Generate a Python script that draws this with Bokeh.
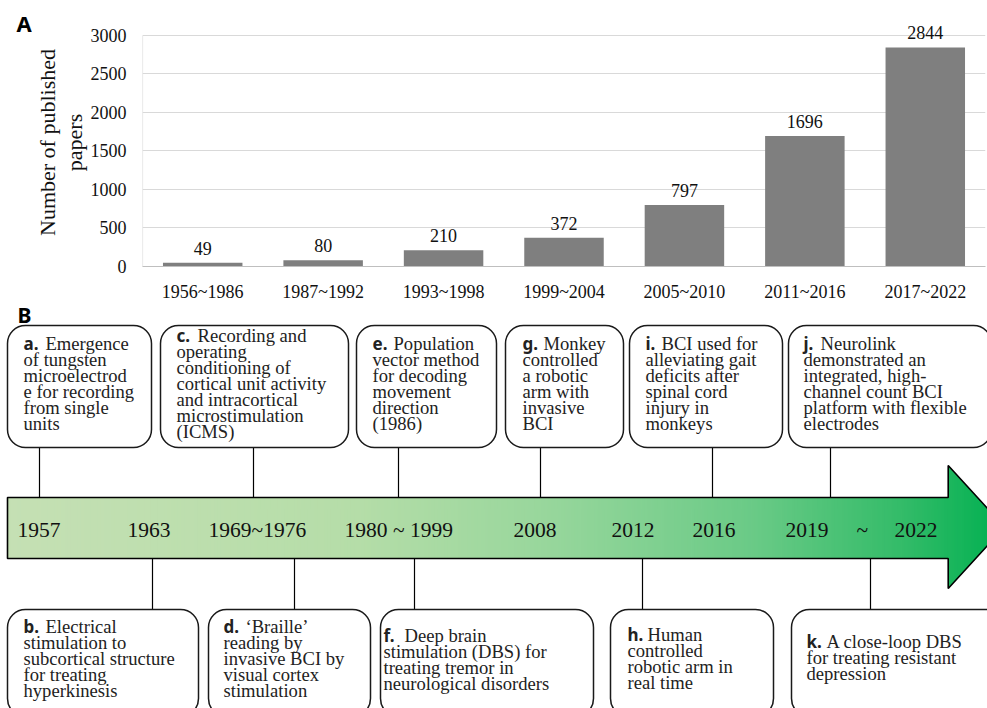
import numpy as np
from bokeh.plotting import figure
from bokeh.layouts import column, row
from bokeh.models import Range1d, FactorRange, LabelSet, FixedTicker, ColumnDataSource
from bokeh.transform import dodge
from bokeh.core.properties import value
from bokeh.embed import file_html
from bokeh.resources import INLINE

# ---------------- data ----------------
periods = ["1956~1986", "1987~1992", "1993~1998", "1999~2004",
           "2005~2010", "2011~2016", "2017~2022"]
papers = [49, 80, 210, 372, 797, 1696, 2844]
y_ticks = [0, 500, 1000, 1500, 2000, 2500, 3000]

timeline_years = ["1957", "1963", "1969~1976", "1980 ~ 1999", "2008",
                  "2012", "2016", "2019", "~", "2022"]

events_top_labels = ["a.", "c.", "e.", "g.", "i.", "j."]
events_top_lines = [
    ["Emergence", "of tungsten", "microelectrod", "e for recording", "from single", "units"],
    ["Recording and", "operating", "conditioning of", "cortical unit activity",
     "and intracortical", "microstimulation", "(ICMS)"],
    ["Population", "vector method", "for decoding", "movement", "direction", "(1986)"],
    ["Monkey", "controlled", "a robotic", "arm with", "invasive", "BCI"],
    ["BCI used for", "alleviating gait", "deficits after", "spinal cord", "injury in", "monkeys"],
    ["Neurolink", "demonstrated an", "integrated, high-", "channel count BCI",
     "platform with flexible", "electrodes"],
]
events_bottom_labels = ["b.", "d.", "f.", "h.", "k."]
events_bottom_lines = [
    ["Electrical", "stimulation to", "subcortical structure", "for treating", "hyperkinesis"],
    ["\u2018Braille\u2019", "reading by", "invasive BCI by", "visual cortex", "stimulation"],
    ["Deep brain", "stimulation (DBS) for", "treating tremor in", "neurological disorders"],
    ["Human", "controlled", "robotic arm in", "real time"],
    ["A close-loop DBS", "for treating resistant", "depression"],
]

SERIF = value("Liberation Serif")
SANS = value("Noto Sans")

W = 987
WA = 32
H1 = 304
H2 = 404

# ---------------- panel letter A ----------------
pa = figure(width=WA, height=H1, x_range=Range1d(0, WA), y_range=Range1d(H1, 0),
            output_backend="svg", toolbar_location=None,
            x_axis_location=None, y_axis_location=None, min_border=0)
pa.frame_align = False
pa.outline_line_color = None
pa.xgrid.grid_line_color = None
pa.ygrid.grid_line_color = None
pa.text(x=[16], y=[22], text=["A"], text_align="left", text_baseline="alphabetic",
        text_font=SANS, text_font_style="bold", text_font_size="22px", text_color="#000000")

# ---------------- panel A: bar chart ----------------
p1 = figure(width=W - WA, height=H1, x_range=FactorRange(*periods, range_padding=0),
            y_range=Range1d(0, 3220), output_backend="svg", toolbar_location=None,
            min_border_left=141 - WA, min_border_right=2, min_border_top=18,
            min_border_bottom=30)
p1.frame_align = False
p1.outline_line_color = None
p1.vbar(x=periods, top=papers, width=0.66, fill_color="#7f7f7f", line_color=None)
edge_src = ColumnDataSource(dict(x=[periods[0]], y0=[y_ticks[0]], y1=[y_ticks[-1]]))
p1.segment(x0=dodge("x", -0.5, range=p1.x_range), x1=dodge("x", -0.5, range=p1.x_range),
           y0="y0", y1="y1", source=edge_src, line_color="#d9d9d9", line_width=1.2)
src = ColumnDataSource(dict(x=periods, y=papers, t=[str(v) for v in papers]))
p1.add_layout(LabelSet(x="x", y="y", text="t", source=src, text_align="center",
                       text_baseline="bottom", y_offset=8, text_font="Liberation Serif",
                       text_font_size="18px", text_color="#111111"))

p1.xgrid.grid_line_color = None
p1.ygrid.grid_line_color = "#d9d9d9"
p1.ygrid.grid_line_width = 1
p1.yaxis.ticker = FixedTicker(ticks=y_ticks)
p1.yaxis.axis_line_color = None
p1.xaxis.axis_line_color = "#bfbfbf"
for ax in (p1.xaxis[0], p1.yaxis[0]):
    ax.major_tick_line_color = None
    ax.minor_tick_line_color = None
    ax.major_label_text_font = "Liberation Serif"
    ax.major_label_text_font_size = "18px"
    ax.major_label_text_color = "#111111"
p1.yaxis.major_label_standoff = 10
p1.xaxis.major_label_standoff = 9
p1.yaxis.axis_label = "Number of published\npapers"
p1.yaxis.axis_label_text_font = "Liberation Serif"
p1.yaxis.axis_label_text_font_size = "22px"
p1.yaxis.axis_label_text_font_style = "normal"
p1.yaxis.axis_label_text_color = "#111111"
p1.yaxis.axis_label_text_line_height = 1.05
p1.yaxis.axis_label_standoff = 1

# ---------------- panel B: timeline ----------------
p2 = figure(width=W, height=H2, x_range=Range1d(0, 987), y_range=Range1d(708, 708 - H2),
            output_backend="svg", toolbar_location=None,
            x_axis_location=None, y_axis_location=None, min_border=0)
p2.frame_align = False
p2.outline_line_color = None
p2.xgrid.grid_line_color = None
p2.ygrid.grid_line_color = None

# arrow geometry (drawing units)
ax0, ax_head, ax_tip = 7.0, 947.7, 1004.0
body_top, body_bot = 497.0, 558.0
head_top, head_bot, mid = 465.0, 588.0, 526.5

stops = [(0.0, (197, 224, 180)), (0.35, (181, 221, 168)), (0.55, (150, 214, 155)),
         (0.75, (105, 202, 134)), (0.9, (50, 187, 104)), (1.0, (0, 176, 80))]


def grad_color(t):
    for (t0, c0), (t1, c1) in zip(stops[:-1], stops[1:]):
        if t <= t1:
            f = (t - t0) / (t1 - t0)
            c = [round(c0[k] + f * (c1[k] - c0[k])) for k in range(3)]
            return "#%02x%02x%02x" % tuple(c)
    return "#%02x%02x%02x" % stops[-1][1]


def tb(x):
    if x <= ax_head:
        return body_top, body_bot
    h = max(0.0, (ax_tip - x) / (ax_tip - ax_head) * (mid - head_top))
    return mid - h, mid + h


edges = np.linspace(ax0, ax_tip, 300)
xs_list, ys_list, cols = [], [], []
for l, r in zip(edges[:-1], edges[1:]):
    r2 = min(r + 0.8, ax_tip)
    t0, b0 = tb(l)
    t2, b2 = tb(r2)
    if l < ax_head < r2:
        pts_x = [l, ax_head, ax_head, r2, r2, ax_head, ax_head, l]
        pts_y = [t0, t0, head_top, t2, b2, head_bot, b0, b0]
    else:
        pts_x = [l, r2, r2, l]
        pts_y = [t0, t2, b2, b0]
    xs_list.append(pts_x)
    ys_list.append(pts_y)
    cols.append(grad_color((0.5 * (l + r) - ax0) / (ax_tip - ax0)))
p2.patches(xs=xs_list, ys=ys_list, fill_color=cols, line_color=None)

outline_x = [ax0, ax_head, ax_head, ax_tip, ax_head, ax_head, ax0]
outline_y = [body_top, body_top, head_top, mid, head_bot, body_bot, body_bot]
p2.patch(outline_x, outline_y, fill_color=None, line_color="#000000", line_width=1.6)

# years on the arrow
year_x = [17, 127, 208, 344, 513, 611, 692, 785, 856, 894]
p2.text(x=year_x, y=[529] * len(year_x), text=timeline_years, text_align="left",
        text_baseline="alphabetic", text_font=SERIF, text_font_size="21.5px",
        text_color="#111111")

# boxes layout: left, right, connector x, text x, first baseline, prefix width
top_layout = [(7, 151, 39, 23, 343, 22), (160, 348, 253, 176, 335, 21),
              (356, 496, 398, 372, 343, 21), (505, 623, 540, 522, 343, 21),
              (629, 782, 712, 645, 343, 16), (788, 991, 830, 803, 343, 17)]
bot_layout = [(7, 198, 152, 23, 626, 22), (208, 370, 294, 223, 626, 22),
              (380, 593, 414, 383, 635, 21), (610, 773, 642, 627, 634, 20),
              (791, 1010, 870, 806, 641, 20)]
TOP_T, TOP_B = 325, 447
BOT_T, BOT_B = 609, 716
LINE = 16


def draw_boxes(layout, labels, lines, box_t, box_b, conn_y0, conn_y1):
    p2.segment(x0=[b[2] for b in layout], y0=[conn_y0] * len(layout),
               x1=[b[2] for b in layout], y1=[conn_y1] * len(layout),
               line_color="#000000", line_width=1.2)
    p2.quad(left=[b[0] for b in layout], right=[b[1] for b in layout],
            top=[box_t] * len(layout), bottom=[box_b] * len(layout),
            fill_color="#ffffff", line_color="#1a1a1a", line_width=1.5,
            border_radius=18)
    px, py, pt = [], [], []
    tx, ty, tt = [], [], []
    for b, lab, ls in zip(layout, labels, lines):
        px.append(b[3]); py.append(b[4]); pt.append(lab)
        for i, s in enumerate(ls):
            tx.append(b[3] + (b[5] if i == 0 else 0))
            ty.append(b[4] + i * LINE)
            tt.append(s)
    p2.text(x=px, y=py, text=pt, text_align="left", text_baseline="alphabetic",
            text_font=SANS, text_font_style="bold", text_font_size="17px",
            text_color="#222222")
    p2.text(x=tx, y=ty, text=tt, text_align="left", text_baseline="alphabetic",
            text_font=SERIF, text_font_size="18.6px", text_color="#222222")


draw_boxes(top_layout, events_top_labels, events_top_lines, TOP_T, TOP_B, TOP_B, body_top)
draw_boxes(bot_layout, events_bottom_labels, events_bottom_lines, BOT_T, BOT_B, body_bot, BOT_T)

p2.text(x=[17], y=[314], text=["B"], text_align="left", text_baseline="alphabetic",
        text_font=SANS, text_font_style="bold", text_font_size="21px", text_color="#000000")

layout = column(row(pa, p1, spacing=0), p2, spacing=0)
open("out.html", "w").write(file_html(layout, INLINE))
